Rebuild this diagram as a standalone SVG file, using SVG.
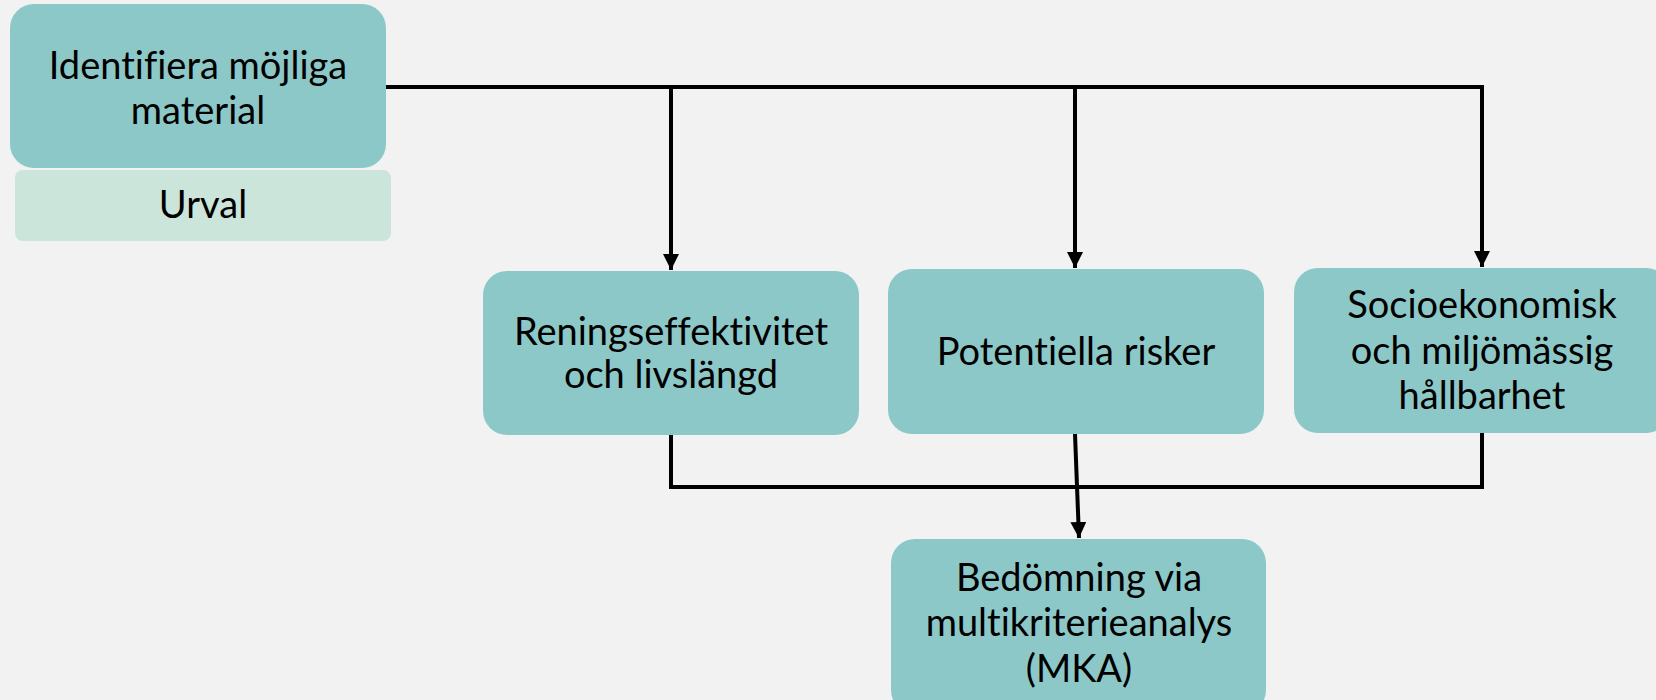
<svg xmlns="http://www.w3.org/2000/svg" width="1656" height="700" viewBox="0 0 1656 700">
<defs>
<style>
.box{fill:#8DC8C8;}
.sub{fill:#CCE5DA;}
.t{font-family:Lato,"Noto Sans","Liberation Sans",sans-serif;font-size:38px;fill:#000;text-anchor:middle;font-variant-ligatures:none;font-feature-settings:"liga" 0;}
.c{stroke:#000;stroke-width:4;fill:none;}
</style>
<marker id="ah" markerWidth="16" markerHeight="16" viewBox="0 0 16 16" refX="16" refY="8" orient="auto" markerUnits="userSpaceOnUse">
<path d="M0,0 L16,8 L0,16 Z" fill="#000"/>
</marker>
</defs>
<rect width="1656" height="700" fill="#F2F2F2"/>
<g id="connectors">
<polyline class="c" points="386,87 1482,87 1482,267" marker-end="url(#ah)"/>
<line class="c" x1="671" y1="87" x2="671" y2="270" marker-end="url(#ah)"/>
<line class="c" x1="1075" y1="87" x2="1075" y2="268" marker-end="url(#ah)"/>
<polyline class="c" points="671,435 671,487 1482,487 1482,432"/>
<line class="c" x1="1075" y1="434" x2="1079" y2="538" marker-end="url(#ah)"/>
</g>
<g id="node-identifiera">
<rect class="box" x="10" y="4" width="376" height="164" rx="24"/>
<text class="t" x="198" y="79">Identifiera möjliga</text>
<text class="t" x="198" y="124">material</text>
</g>
<g id="node-urval">
<rect class="sub" x="15" y="170" width="376" height="71" rx="8"/>
<text class="t" x="203" y="218">Urval</text>
</g>
<g id="node-rening">
<rect class="box" x="483" y="271" width="376" height="164" rx="24"/>
<text class="t" x="671" y="345">Reningseffektivitet</text>
<text class="t" x="671" y="388">och livslängd</text>
</g>
<g id="node-risker">
<rect class="box" x="888" y="269" width="376" height="165" rx="24"/>
<text class="t" x="1076" y="365">Potentiella risker</text>
</g>
<g id="node-socio">
<rect class="box" x="1294" y="268" width="376" height="165" rx="24"/>
<text class="t" x="1482" y="318">Socioekonomisk</text>
<text class="t" x="1482" y="364">och miljömässig</text>
<text class="t" x="1482" y="409">hållbarhet</text>
</g>
<g id="node-mka">
<rect class="box" x="891" y="539" width="375" height="175" rx="24"/>
<text class="t" x="1079" y="591">Bedömning via</text>
<text class="t" x="1079" y="636">multikriterieanalys</text>
<text class="t" x="1079" y="682">(MKA)</text>
</g>
</svg>
